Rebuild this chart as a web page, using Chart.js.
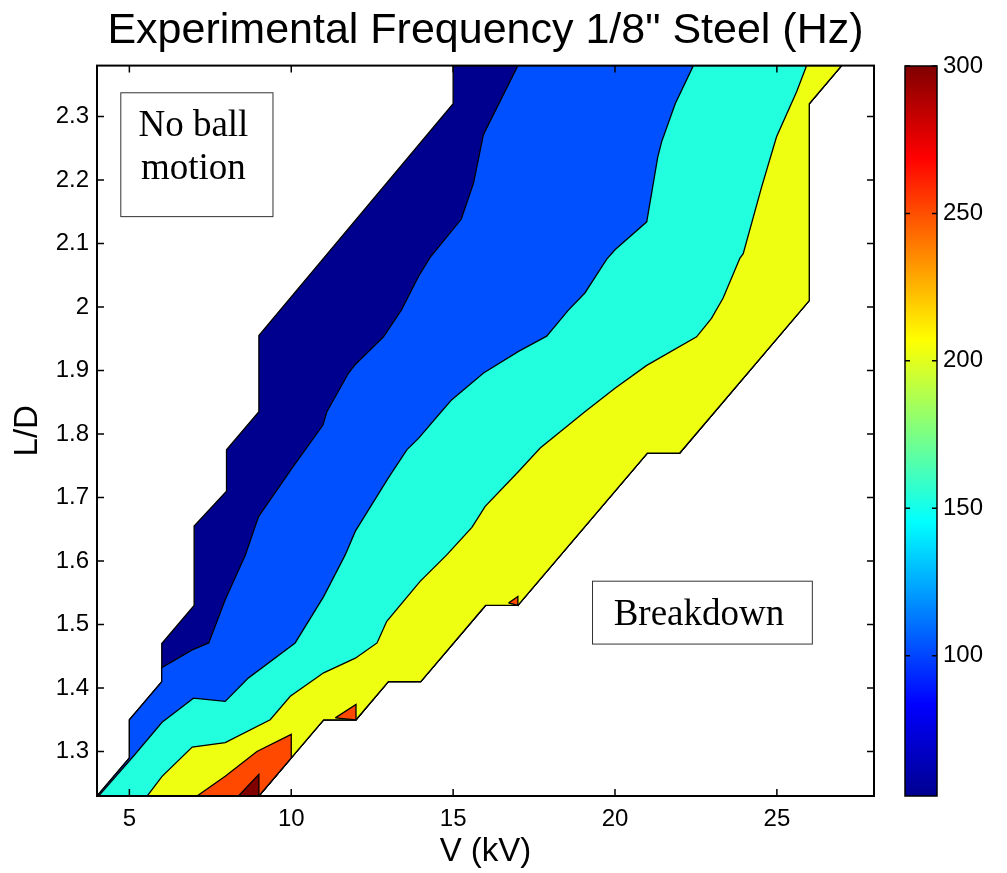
<!DOCTYPE html>
<html>
<head>
<meta charset="utf-8">
<script src="https://cdn.jsdelivr.net/npm/chart.js@4.4.1/dist/chart.umd.min.js"></script>
<style>
  body { margin: 0; background: #fff; }
  #wrap { position: relative; width: 1007px; height: 873px; }
  #main { position: absolute; left: 0; top: 0; }
  #cbar { position: absolute; left: 880px; top: 0; }
</style>
</head>
<body>
<div id="wrap">
  <canvas id="main" width="1007" height="873"></canvas>
  <canvas id="cbar" width="127" height="873"></canvas>
</div>
<script>
//// axis ticks
const xTicks = [5, 10, 15, 20, 25];
const yTicks = [1.3, 1.4, 1.5, 1.6, 1.7, 1.8, 1.9, 2.0, 2.1, 2.2, 2.3];
const yTickLabels = ['1.3', '1.4', '1.5', '1.6', '1.7', '1.8', '1.9', '2', '2.1', '2.2', '2.3'];
const cbTicks = [100, 150, 200, 250, 300];
const cbRange = [52.4, 300];

//// outer edges of the measured region, [V (kV), L/D], bottom to top
const edgeLeft = [[4, 1.23], [5, 1.29], [5, 1.35], [6, 1.41], [6, 1.47], [7, 1.53], [7, 1.655],
  [8, 1.71], [8, 1.775], [9, 1.835], [9, 1.955], [15, 2.32], [15, 2.38]];
const edgeRight = [[9, 1.23], [10, 1.29], [11, 1.35], [12, 1.35], [13, 1.41], [14, 1.41],
  [16, 1.53], [17, 1.53], [21, 1.77], [22, 1.77], [26, 2.01], [26, 2.32], [27, 2.38]];

//// contour lines, top to bottom-left
const line100 = [[17, 2.38], [16, 2.278], [15.93, 2.27], [15.63, 2.195], [15.25, 2.138], [14.29, 2.078],
  [13.93, 2.048], [13.4, 1.995], [12.85, 1.953], [11.97, 1.909], [11.77, 1.896], [11.1, 1.835],
  [10.98, 1.814], [10.02, 1.746], [8.99, 1.67], [8.58, 1.609], [7.96, 1.539], [7.45, 1.471],
  [6.94, 1.46], [6, 1.432]];
const line150 = [[22.42, 2.38], [21.86, 2.32], [21.44, 2.26], [21.32, 2.236], [20.98, 2.134], [20, 2.09],
  [19.74, 2.075], [19.07, 2.022], [18.56, 1.995], [17.89, 1.954], [17.02, 1.93], [15.94, 1.896],
  [14.96, 1.854], [14.6, 1.833], [13.93, 1.793], [13.57, 1.775], [13, 1.731], [11.98, 1.647],
  [11.67, 1.61], [11, 1.544], [10.12, 1.471], [8.68, 1.416], [7.96, 1.379], [6.98, 1.384],
  [6.01, 1.346], [5.13, 1.293], [4.05, 1.23]];
const line200 = [[25.92, 2.38], [25.61, 2.339], [24.99, 2.268], [24.53, 2.189], [23.96, 2.084], [23.86, 2.077],
  [23.34, 2.014], [22.98, 1.982], [22.52, 1.953], [20.98, 1.908], [20, 1.872], [19.07, 1.835],
  [17.69, 1.778], [17.02, 1.741], [15.99, 1.686], [15.83, 1.673], [15.58, 1.653], [14.81, 1.61],
  [13.98, 1.568], [12.95, 1.505], [12.65, 1.471], [11.98, 1.447], [11, 1.424], [9.97, 1.387],
  [9.35, 1.35], [7.96, 1.314], [6.94, 1.307], [6.01, 1.261], [5.55, 1.23]];

//// small high-frequency patches
const patch250a = [[7.09, 1.23], [7.96, 1.261], [8.94, 1.3], [10, 1.327], [10, 1.29], [9, 1.23]];
const patch250b = [[11.36, 1.353], [12, 1.374], [12, 1.35]];
const patch250c = [[16.71, 1.534], [17, 1.544], [17, 1.53]];
const patch300 = [[8.37, 1.23], [9, 1.264], [9, 1.23]];

// contour fill colours (jet)
const colNavy = '#00008F', colBlue = '#0050FF', colCyan = '#22FFDE', colYellow = '#EEFF12',
  colOrange = '#FF4800', colDark = '#800000';

function closed(pts) {
  return pts.concat([pts[0]]).map(p => ({x: p[0], y: p[1]}));
}
// region above a contour line: the line, the left edge below it, then the right edge
function regionFrom(line) {
  const endY = line[line.length - 1][1];
  const tail = edgeLeft.filter(p => p[1] < endY - 1e-6).reverse();
  return closed(line.concat(tail, edgeRight));
}

function poly(label, pts, color, order) {
  return {
    label, data: pts, showLine: true, fill: 'shape',
    backgroundColor: color, borderColor: '#000', borderWidth: 1.3,
    pointRadius: 0, tension: 0, order
  };
}

const datasets = [
  poly('50-100', closed(edgeLeft.concat(edgeRight.slice().reverse())), colNavy, 10),
  poly('100-150', regionFrom(line100), colBlue, 9),
  poly('150-200', regionFrom(line150), colCyan, 8),
  poly('200-250', regionFrom(line200), colYellow, 7),
  poly('250-300 a', closed(patch250a), colOrange, 6),
  poly('250-300 b', closed(patch250b), colOrange, 6),
  poly('250-300 c', closed(patch250c), colOrange, 6),
  poly('300', closed(patch300), colDark, 5)
];

// label boxes in data units
const notes = [
  {x0: 4.72, x1: 9.42, y0: 2.143, y1: 2.338, lines: ['No ball', 'motion']},
  {x0: 19.29, x1: 26.08, y0: 1.47, y1: 1.569, lines: ['Breakdown']}
];

const boxTicks = {
  id: 'boxTicks',
  afterDatasetsDraw(chart) {
    const {ctx, chartArea: a, scales} = chart;
    ctx.save();
    // notes
    ctx.lineWidth = 1;
    ctx.strokeStyle = '#333';
    ctx.fillStyle = '#000';
    ctx.font = '37px "Liberation Serif", "Times New Roman", serif';
    ctx.textAlign = 'center';
    ctx.textBaseline = 'alphabetic';
    notes.forEach(n => {
      const l = scales.x.getPixelForValue(n.x0), r = scales.x.getPixelForValue(n.x1);
      const t = scales.y.getPixelForValue(n.y1), b = scales.y.getPixelForValue(n.y0);
      ctx.fillStyle = '#fff';
      ctx.fillRect(l, t, r - l, b - t);
      ctx.strokeRect(l + 0.5, t + 0.5, r - l, b - t);
      ctx.fillStyle = '#000';
      n.lines.forEach((s, i) => ctx.fillText(s, (l + r) / 2 - 3, t + 44 + i * 43));
    });
    // box and inward ticks
    ctx.strokeStyle = '#000';
    ctx.lineWidth = 2;
    ctx.strokeRect(a.left, a.top, a.right - a.left, a.bottom - a.top);
    ctx.lineWidth = 1.5;
    ctx.beginPath();
    scales.x.ticks.forEach(t => {
      const px = scales.x.getPixelForValue(t.value);
      ctx.moveTo(px, a.bottom); ctx.lineTo(px, a.bottom - 7);
      ctx.moveTo(px, a.top); ctx.lineTo(px, a.top + 7);
    });
    scales.y.ticks.forEach(t => {
      const py = scales.y.getPixelForValue(t.value);
      ctx.moveTo(a.left, py); ctx.lineTo(a.left + 7, py);
      ctx.moveTo(a.right, py); ctx.lineTo(a.right - 7, py);
    });
    ctx.stroke();
    ctx.restore();
  }
};

Chart.defaults.color = '#000';
Chart.defaults.font.family = '"Liberation Sans", Arial, sans-serif';

new Chart(document.getElementById('main'), {
  type: 'scatter',
  data: {datasets},
  options: {
    responsive: false,
    animation: false,
    events: [],
    layout: {padding: {left: 0, right: 133, top: 0, bottom: 0}},
    plugins: {
      legend: {display: false},
      tooltip: {enabled: false},
      title: {
        display: true,
        text: 'Experimental Frequency 1/8" Steel (Hz)',
        fullSize: false,
        font: {size: 43, weight: 'normal'},
        padding: {top: 5, bottom: 9}
      }
    },
    scales: {
      x: {
        type: 'linear', min: 4, max: 28,
        afterBuildTicks: s => { s.ticks = xTicks.map(v => ({value: v})); },
        afterFit: s => { s.height = 77; },
        grid: {display: false, drawTicks: false},
        border: {display: false},
        ticks: {font: {size: 24}, padding: 9},
        title: {display: true, text: 'V (kV)', font: {size: 33}, padding: {top: 0, bottom: 1}}
      },
      y: {
        type: 'linear', min: 1.23, max: 2.38,
        afterBuildTicks: s => { s.ticks = yTicks.map(v => ({value: v})); },
        afterFit: s => { s.width = 97; },
        grid: {display: false, drawTicks: false},
        border: {display: false},
        ticks: {font: {size: 24}, padding: 8, callback: (v, i) => yTickLabels[i]},
        title: {display: true, text: 'L/D', font: {size: 33}, padding: {top: 8, bottom: 0}}
      }
    }
  },
  plugins: [boxTicks]
});

//// colour bar
const jetStops = [[0, '#00008F'], [0.125, '#0000FF'], [0.375, '#00FFFF'], [0.625, '#FFFF00'], [0.875, '#FF0000'], [1, '#800000']];

const cbFrame = {
  id: 'cbFrame',
  afterDatasetsDraw(chart) {
    const {ctx, chartArea: a, scales} = chart;
    ctx.save();
    ctx.strokeStyle = '#000';
    ctx.lineWidth = 1.5;
    ctx.strokeRect(a.left, a.top, a.right - a.left, a.bottom - a.top);
    ctx.beginPath();
    scales.y.ticks.forEach(t => {
      const py = scales.y.getPixelForValue(t.value);
      ctx.moveTo(a.left, py); ctx.lineTo(a.left + 5, py);
      ctx.moveTo(a.right, py); ctx.lineTo(a.right - 5, py);
    });
    ctx.stroke();
    ctx.restore();
  }
};

new Chart(document.getElementById('cbar'), {
  type: 'bar',
  data: {
    labels: [''],
    datasets: [{
      data: [cbRange],
      barPercentage: 1,
      categoryPercentage: 1,
      borderWidth: 0,
      backgroundColor: (c) => {
        const a = c.chart.chartArea;
        if (!a) return '#00f';
        const g = c.chart.ctx.createLinearGradient(0, a.bottom, 0, a.top);
        jetStops.forEach(s => g.addColorStop(s[0], s[1]));
        return g;
      }
    }]
  },
  options: {
    responsive: false,
    animation: false,
    events: [],
    layout: {padding: {left: 25, right: 0, top: 66, bottom: 77}},
    plugins: {legend: {display: false}, tooltip: {enabled: false}},
    scales: {
      x: {display: false},
      y: {
        position: 'right', min: cbRange[0], max: cbRange[1],
        afterBuildTicks: s => { s.ticks = cbTicks.map(v => ({value: v})); },
        afterFit: s => { s.width = 70; },
        grid: {display: false, drawTicks: false},
        border: {display: false},
        ticks: {font: {size: 24}, padding: 6}
      }
    }
  },
  plugins: [cbFrame]
});
</script>
</body>
</html>
